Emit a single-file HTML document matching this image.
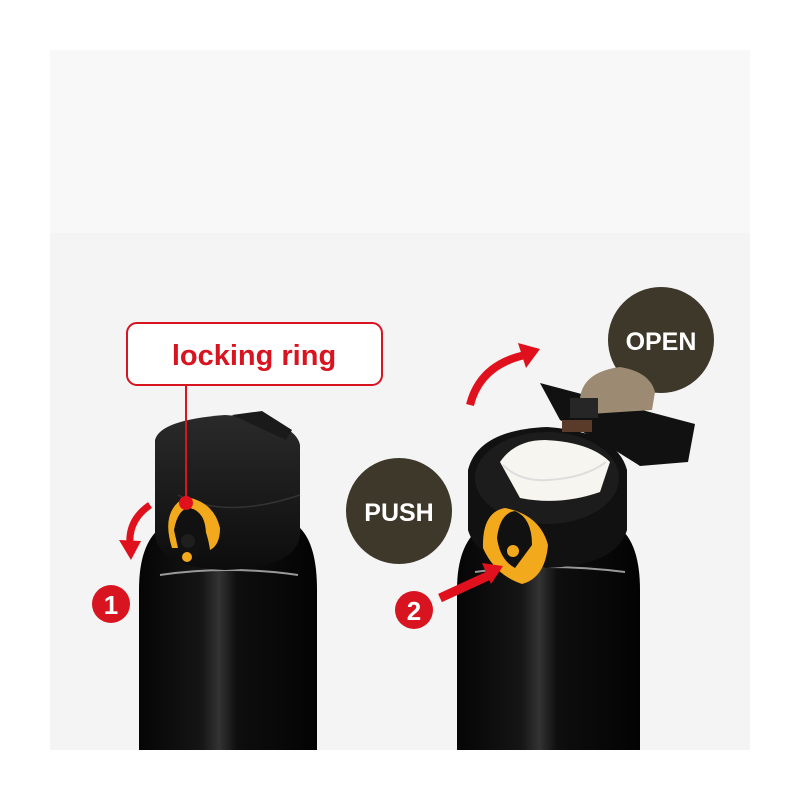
<!DOCTYPE html>
<html><head><meta charset="utf-8"><style>
html,body{margin:0;padding:0;background:#fff;}
svg{display:block}
text{font-family:"Liberation Sans",sans-serif;font-weight:bold}
</style></head><body>
<svg width="800" height="800" viewBox="0 0 800 800" xmlns="http://www.w3.org/2000/svg">
<defs>
<linearGradient id="body" x1="0" x2="1" y1="0" y2="0">
<stop offset="0" stop-color="#050505"/><stop offset="0.35" stop-color="#151515"/><stop offset="0.45" stop-color="#333"/><stop offset="0.55" stop-color="#0e0e0e"/><stop offset="1" stop-color="#030303"/>
</linearGradient>
<linearGradient id="cap" x1="0" x2="0" y1="0" y2="1">
<stop offset="0" stop-color="#2a2a2a"/><stop offset="1" stop-color="#0c0c0c"/>
</linearGradient>
</defs>
<rect x="50" y="50" width="700" height="183" fill="#f8f8f8"/>
<rect x="50" y="233" width="700" height="517" fill="#f4f4f4"/>

<!-- left bottle -->
<path d="M139 750 V590 Q139 545 160 528 H300 Q317 545 317 590 V750 Z" fill="url(#body)"/>
<path d="M160 575 Q228 565 298 575" stroke="#999" stroke-width="2" fill="none"/>
<path d="M155 440 Q160 420 225 415 Q295 420 300 445 V535 Q296 568 225 570 Q160 568 155 535 Z" fill="url(#cap)"/>
<path d="M232 415 L262 411 L292 430 L286 440 Z" fill="#1a1a1a"/>
<path d="M178 495 Q225 520 300 495" stroke="#333" stroke-width="1.5" fill="none"/>
<path d="M172 548 Q160 510 186 497 Q214 502 220 528 Q220 545 210 550 Q205 515 186 512 Q170 518 178 548 Z" fill="#f3a91c"/>
<path d="M174 530 Q178 508 190 508 Q206 512 206 535 L196 558 Q178 555 174 530 Z" fill="#111"/>
<circle cx="188" cy="541" r="7" fill="#1e1e1e"/>
<circle cx="187" cy="557" r="5" fill="#f3a91c"/>
<rect x="127" y="323" width="255" height="62" rx="10" fill="#fff" stroke="#d7141f" stroke-width="2"/>
<text x="254" y="365" font-size="29" fill="#d7141f" text-anchor="middle">locking ring</text>
<line x1="186" y1="385" x2="186" y2="500" stroke="#d7141f" stroke-width="2"/>
<circle cx="186" cy="503" r="7" fill="#e0101c"/>
<path d="M150 505 Q128 520 130 545" stroke="#e0101c" stroke-width="7" fill="none"/>
<path d="M119 540 L131 560 L141 541 Z" fill="#e0101c"/>
<circle cx="111" cy="604" r="19" fill="#d7141f"/>
<text x="111" y="614" font-size="26" fill="#fff" text-anchor="middle" font-weight="normal">1</text>

<!-- right bottle -->
<circle cx="661" cy="340" r="53" fill="#3d3829"/>
<text x="661" y="350" font-size="25" fill="#fff" text-anchor="middle">OPEN</text>
<path d="M457 750 V590 Q457 545 480 528 H620 Q640 545 640 590 V750 Z" fill="url(#body)"/>
<path d="M475 572 Q545 562 625 572" stroke="#999" stroke-width="2" fill="none"/>
<path d="M468 470 Q478 430 547 427 Q617 432 627 470 V530 Q617 565 547 568 Q478 565 468 530 Z" fill="#111"/>
<ellipse cx="547" cy="478" rx="72" ry="46" fill="#1c1c1c"/>
<path d="M500 462 Q515 440 545 440 Q590 442 610 462 L600 492 Q560 506 520 498 Z" fill="#f7f5ef"/>
<path d="M503 465 Q520 482 548 480 Q585 478 606 462" stroke="#ddd" stroke-width="2" fill="none"/>
<path d="M540 383 L695 424 L688 462 L640 466 Q600 440 560 420 Z" fill="#111"/>
<path d="M580 398 Q583 372 620 367 Q650 372 655 392 L652 410 L590 414 Z" fill="#9c8a72"/>
<rect x="570" y="398" width="28" height="20" fill="#262626"/>
<rect x="562" y="420" width="30" height="12" fill="#5a3a28"/>
<path d="M483 548 Q482 512 505 508 Q540 515 548 545 Q545 578 522 584 Q495 575 483 548 Z" fill="#f3a91c"/>
<path d="M497 538 Q500 513 515 511 Q532 518 532 545 L515 568 Q500 560 497 538 Z" fill="#111"/>
<circle cx="513" cy="551" r="6" fill="#f3a91c"/>
<path d="M440 598 L490 575" stroke="#e0101c" stroke-width="9"/>
<path d="M482 563 L503 566 L491 584 Z" fill="#e0101c"/>
<circle cx="414" cy="610" r="19" fill="#d7141f"/>
<text x="414" y="620" font-size="26" fill="#fff" text-anchor="middle" font-weight="normal">2</text>
<path d="M470 405 Q480 365 525 355" stroke="#e0101c" stroke-width="8" fill="none"/>
<path d="M518 343 L540 349 L526 368 Z" fill="#e0101c"/>
<circle cx="399" cy="511" r="53" fill="#3d3829"/>
<text x="399" y="521" font-size="25" fill="#fff" text-anchor="middle">PUSH</text>
</svg>
</body></html>
